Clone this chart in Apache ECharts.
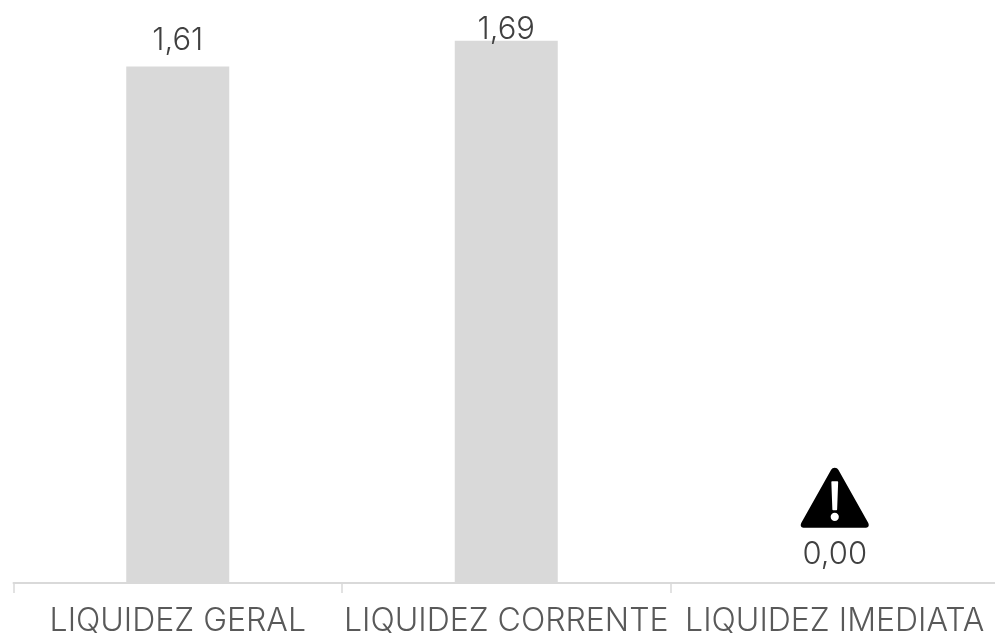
<!DOCTYPE html>
<html><head><meta charset="utf-8">
<style>html,body{margin:0;padding:0;background:#fff}#c{width:995px;height:636px}</style>
<script src="https://cdn.jsdelivr.net/npm/echarts@6/dist/echarts.min.js"></script>
</head><body><div id="c"></div>
<script>
const categories = ['LIQUIDEZ GERAL','LIQUIDEZ CORRENTE','LIQUIDEZ IMEDIATA'];
const values = [1.61,1.69,0.00];
const labelDistances = [10,-4,13];
const warningCategory = ['LIQUIDEZ IMEDIATA'];
const warningLevel = [0.266];
const warningPath = 'path://M50 2C47.500 2 46 3 44.500 5.500L1 81C-1 85 0.500 88 4 88L96 88C99.500 88 101 85 99 81L55.500 5.500C54 3 52.500 2 50 2ZM46 21.500L54 21.500C54.600 21.500 55 21.900 55 22.500L53.500 62C53.500 62.500 53 63 52.500 63L47.500 63C47 63 46.500 62.500 46.500 62L45 22.500C45 21.900 45.400 21.500 46 21.500ZM50 66.500C53.500 66.500 56 69 56 72.500C56 76 53.500 78.500 50 78.500C46.500 78.500 44 76 44 72.500C44 69 46.500 66.500 50 66.500Z';
const fontFamily = 'Inter';
const chart = echarts.init(document.getElementById('c'),null,{renderer:'canvas'});
chart.setOption({
  animation:false,
  backgroundColor:'#fff',
  grid:{left:13.5,top:0,right:-4,bottom:53,containLabel:false,outerBoundsMode:'none'},
  xAxis:{type:'category',data:categories,
    axisLine:{lineStyle:{color:'#d9d9d9',width:2}},
    axisTick:{show:true,alignWithLabel:false,length:10,lineStyle:{color:'#d9d9d9',width:1.5}},
    axisLabel:{color:'#595959',fontSize:32,fontFamily,fontWeight:300,margin:22,interval:0,hideOverlap:false}},
  yAxis:{type:'value',min:0,max:1.817,show:false,splitLine:{show:false}},
  series:[
    {type:'bar',barWidth:103,z:2,
     data:values.map((v,i)=>({value:v,label:{distance:labelDistances[i]}})),
     itemStyle:{color:'#d9d9d9'},
     label:{show:true,position:'top',color:'#404040',fontSize:31,fontFamily,fontWeight:300,
       formatter:p=>p.value.toFixed(2).replace('.',',')}},
    {type:'scatter',z:3,silent:true,
     data:warningCategory.map((c,i)=>[c,warningLevel[i]]),
     symbol:warningPath,symbolKeepAspect:false,symbolSize:[68,60],
     itemStyle:{color:'#000',opacity:1}}
  ]
});
</script></body></html>
